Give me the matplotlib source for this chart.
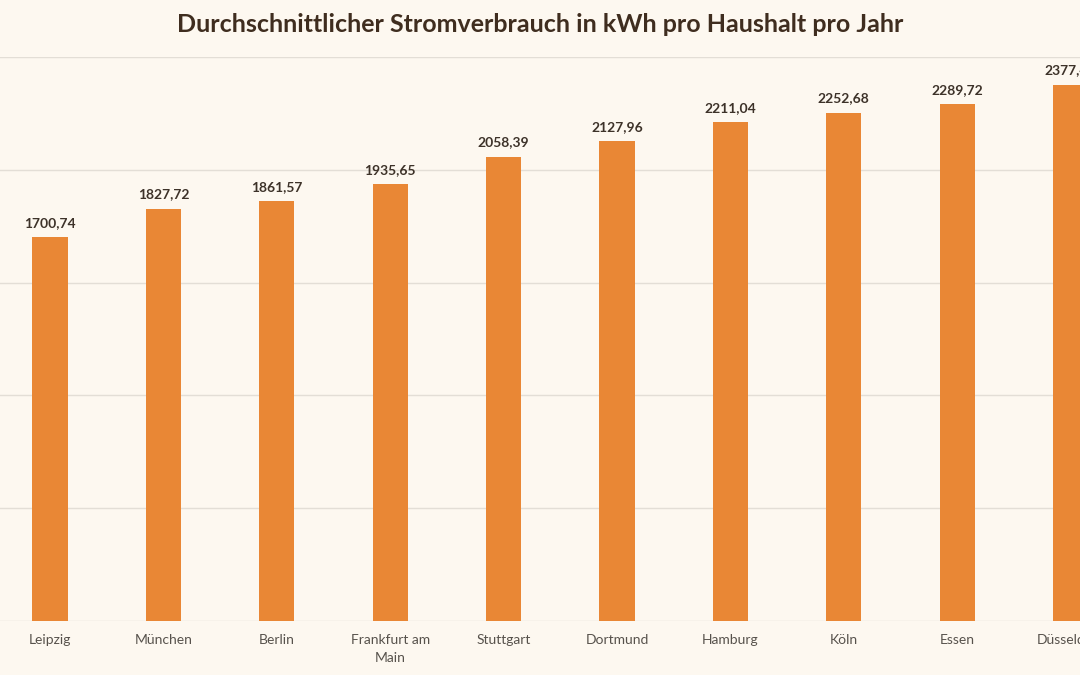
import matplotlib
matplotlib.use("Agg")
import matplotlib.pyplot as plt

cities = ["Leipzig", "München", "Berlin", "Frankfurt am\nMain", "Stuttgart",
          "Dortmund", "Hamburg", "Köln", "Essen", "Düsseldorf"]
values = [1700.74, 1827.72, 1861.57, 1935.65, 2058.39,
          2127.96, 2211.04, 2252.68, 2289.72, 2377.45]
y_ticks = [0, 500, 1000, 1500, 2000, 2500]
title = "Durchschnittlicher Stromverbrauch in kWh pro Haushalt pro Jahr"

bg = "#fdf8f0"
bar_color = "#e98735"
W, H = 1080, 675
fig = plt.figure(figsize=(W / 100, H / 100), dpi=100, facecolor=bg)

# axes extends beyond the right edge (the reference is cropped there)
left_px, base_px, top_px = -6.7, 621, 57
band = 113.4
ax = fig.add_axes([left_px / W, (H - base_px) / H, band * len(cities) / W, (base_px - top_px) / H])
ax.set_facecolor(bg)
ax.set_xlim(-0.5, len(cities) - 0.5)
ax.set_ylim(0, 2500)

x = list(range(len(cities)))
ax.bar(x, values, width=0.31, color=bar_color, zorder=3)

ax.set_yticks(y_ticks)
ax.yaxis.grid(True, color="#e3ded6", linewidth=1.0, zorder=0)
ax.tick_params(axis="y", left=False, labelleft=False)
ax.tick_params(axis="x", length=0, pad=9, labelsize=10, colors="#57524c")
ax.set_xticks(x)
ax.set_xticklabels(cities, fontfamily="Lato", linespacing=1.65)
for s in ax.spines.values():
    s.set_visible(False)

for xi, v in zip(x, values):
    ax.annotate(f"{v:.2f}".replace(".", ","), (xi, v), xytext=(0, 6),
                textcoords="offset points", ha="center", va="bottom",
                fontsize=10, fontweight="bold", color="#3d3229", fontfamily="Lato",
                annotation_clip=False)

fig.text(540 / W, 1 - 25 / H, title, ha="center", va="center", fontsize=18,
         fontweight="bold", color="#3f2d1f", fontfamily="Lato")

fig.savefig("out.png", dpi=100, facecolor=bg)
